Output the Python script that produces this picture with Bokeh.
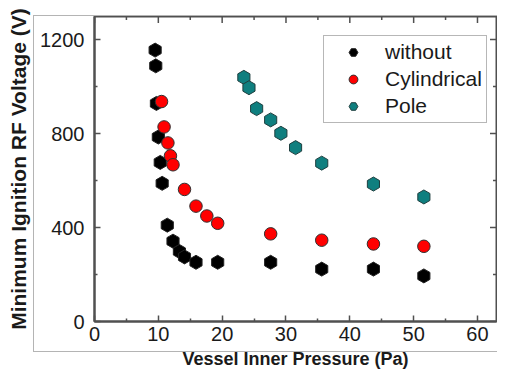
import numpy as np
from bokeh.plotting import figure
from bokeh.models import Range1d, FixedTicker, Legend, LegendItem, InlineStyleSheet
from bokeh.embed import file_html
from bokeh.resources import INLINE

without_x = [9.5, 9.6, 9.7, 10.0, 10.3, 10.6, 11.4, 12.3, 13.3, 14.1, 15.9, 19.3, 27.6, 35.6, 43.7, 51.6]
without_y = [1155, 1088, 928, 785, 677, 588, 410, 342, 298, 275, 252, 252, 252, 223, 223, 194]
cyl_x = [10.5, 10.9, 11.5, 11.9, 12.3, 14.1, 15.9, 17.6, 19.3, 27.6, 35.6, 43.7, 51.6]
cyl_y = [936, 828, 760, 705, 667, 562, 491, 449, 418, 373, 346, 330, 320]
pole_x = [23.4, 24.2, 25.4, 27.6, 29.2, 31.5, 35.6, 43.7, 51.6]
pole_y = [1039, 995, 906, 858, 801, 740, 674, 585, 530]
x_ticks = [0, 10, 20, 30, 40, 50, 60]
x_minor = [5, 15, 25, 35, 45, 55]
y_ticks = [0, 400, 800, 1200]
y_minor = [200, 600, 1000]

FONT = "Liberation Sans"
AXC = "#505050"
TXT = "#1a1a1a"

x_end = 62.98
y_end = 1298

p = figure(width=497, height=371, output_backend="svg", toolbar_location=None,
           x_range=Range1d(0, x_end), y_range=Range1d(0, y_end),
           min_border_left=94, min_border_right=1, min_border_top=16, min_border_bottom=50)
p.grid.visible = False
p.outline_line_color = AXC
p.outline_line_width = 2
p.background_fill_color = "white"
p.border_fill_color = "white"

def style_axis(ax):
    ax.axis_line_color = AXC
    ax.axis_line_width = 2
    ax.major_tick_line_color = AXC
    ax.minor_tick_line_color = AXC
    ax.major_tick_line_width = 1.5
    ax.minor_tick_line_width = 1.5
    ax.major_tick_in = 6
    ax.major_tick_out = 0
    ax.minor_tick_in = 3
    ax.minor_tick_out = 0
    ax.major_label_text_font = FONT
    ax.major_label_text_font_size = "20px"
    ax.major_label_text_color = TXT
    ax.axis_label_text_font = FONT
    ax.axis_label_text_font_style = "bold"
    ax.axis_label_text_color = TXT

xb = p.xaxis[0]
yl = p.yaxis[0]
xb.ticker = FixedTicker(ticks=x_ticks, minor_ticks=x_minor)
yl.ticker = FixedTicker(ticks=y_ticks, minor_ticks=y_minor)
xb.axis_label = "Vessel Inner Pressure (Pa)"
yl.axis_label = "Minimum Ignition RF Voltage (V)"
style_axis(xb)
style_axis(yl)
xb.axis_label_text_font_size = "18px"
yl.axis_label_text_font_size = "21px"
xb.major_label_standoff = 5
yl.major_label_standoff = 10
xb.axis_label_standoff = 5
yl.axis_label_standoff = 7

# mirrored inward ticks on the top and right frame edges (clipped half of a dash marker)
tick_kw = dict(marker="dash", line_color=AXC, line_width=1.5, fill_color=None)
p.scatter(x_ticks, [y_end] * len(x_ticks), size=13, angle=np.pi / 2, **tick_kw)
p.scatter(x_minor, [y_end] * len(x_minor), size=7, angle=np.pi / 2, **tick_kw)
p.scatter([x_end] * len(y_ticks), y_ticks, size=13, **tick_kw)
p.scatter([x_end] * len(y_minor), y_minor, size=7, **tick_kw)

r1 = p.scatter(without_x, without_y, marker="hex", size=14, angle=np.pi / 2,
               fill_color="black", line_color="#202020", line_width=1)
r2 = p.scatter(cyl_x, cyl_y, marker="circle", size=12.5,
               fill_color="#ff0000", line_color="#303030", line_width=1)
r3 = p.scatter(pole_x, pole_y, marker="hex", size=14, angle=np.pi / 2,
               fill_color="#0f7f7f", line_color="#1f3f3f", line_width=1)

legend = Legend(items=[LegendItem(label="without", renderers=[r1]),
                       LegendItem(label="Cylindrical", renderers=[r2]),
                       LegendItem(label="Pole", renderers=[r3])],
                location=(229, 198))
legend.label_text_font = FONT
legend.label_text_font_size = "21px"
legend.label_text_color = TXT
legend.border_line_color = "#707070"
legend.border_line_width = 1.5
legend.padding = 4
legend.spacing = 3
legend.label_height = 22
legend.glyph_height = 22
legend.glyph_width = 50
legend.label_standoff = 7
legend.margin = 0
legend.background_fill_alpha = 1
p.add_layout(legend, "center")

# light grey page border of the original graph page
p.stylesheets = [InlineStyleSheet(css="""
:host { position: relative; }
:host::after { content: ""; position: absolute; left: 33px; top: 15px; right: 0px; height: 335px;
  border: 1.5px solid #b4b4b4; border-right: none; pointer-events: none; }
""")]

open("out.html", "w").write(file_html(p, INLINE))
